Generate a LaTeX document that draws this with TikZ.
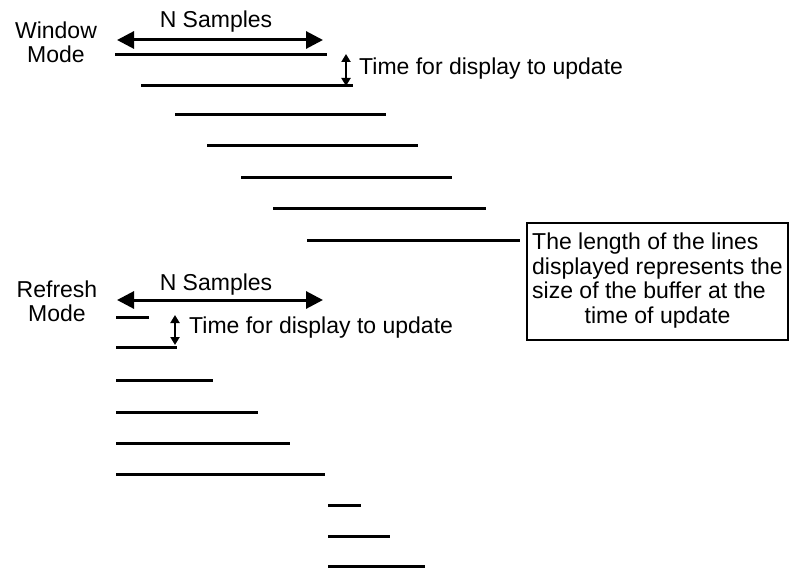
\documentclass[tikz,border=0pt]{standalone}
\usepackage{fontspec}
\setmainfont{Liberation Sans}
\usetikzlibrary{arrows.meta}
\tikzset{
  bar/.style={line width=3pt},
  bigarrow/.style={line width=3pt,{Triangle[length=17pt,width=17pt]}-{Triangle[length=17pt,width=17pt]}},
  smallarrow/.style={line width=2pt,{Triangle[length=8pt,width=9pt]}-{Triangle[length=8pt,width=9pt]}},
  lbl/.style={inner sep=0pt,font=\fontsize{23}{24}\selectfont},
}
\begin{document}
\begin{tikzpicture}[x=1pt,y=-1pt]
\useasboundingbox (0,0) rectangle (794,569);
% Window mode
\node[lbl,anchor=base,align=center] (wm) at (56,63) {Window\\Mode};
\node[lbl,anchor=base] (ns1) at (216,28) {N Samples};
\coordinate (na1) at (117,40); \coordinate (nb1) at (323,40);
\draw[bigarrow] (na1) -- (nb1);
\foreach \i/\y/\a/\b in {1/55/115/327,2/86/141/353,3/115/175/386,4/146/207/418,5/178/241/452,6/209/273/486,7/240/307/520}{
  \coordinate (w\i a) at (\a,\y); \coordinate (w\i b) at (\b,\y);
  \draw[bar] (w\i a) -- (w\i b);
}
\coordinate (ta1) at (346,54); \coordinate (tb1) at (346,86);
\draw[smallarrow] (ta1) -- (tb1);
\node[lbl,anchor=base west] (tt1) at (359,75) {Time for display to update};
% Box
\node[draw,line width=1.5pt,minimum width=261pt,minimum height=117pt,inner sep=0pt] (box) at (657.5,281.5)
 {\fontsize{23}{24.5}\selectfont\begin{tabular}{@{}l@{}}The length of the lines\\displayed represents the\\size of the buffer at the\\\multicolumn{1}{@{}c@{}}{time of update}\end{tabular}};
% Refresh mode
\node[lbl,anchor=base,align=center] (rm) at (57,321) {Refresh\\Mode};
\node[lbl,anchor=base] (ns2) at (216,290) {N Samples};
\coordinate (na2) at (117,300); \coordinate (nb2) at (323,300);
\draw[bigarrow] (na2) -- (nb2);
\foreach \i/\y/\a/\b in {1/317/116/149,2/347/116/177,3/380/116/213,4/412/116/258,5/443/116/290,6/474/116/325,7/505/328/361,8/536/328/390,9/566/328/425}{
  \coordinate (r\i a) at (\a,\y); \coordinate (r\i b) at (\b,\y);
  \draw[bar] (r\i a) -- (r\i b);
}
\coordinate (ta2) at (175,315); \coordinate (tb2) at (175,345);
\draw[smallarrow] (ta2) -- (tb2);
\node[lbl,anchor=base west] (tt2) at (189,333) {Time for display to update};
\end{tikzpicture}
\end{document}
